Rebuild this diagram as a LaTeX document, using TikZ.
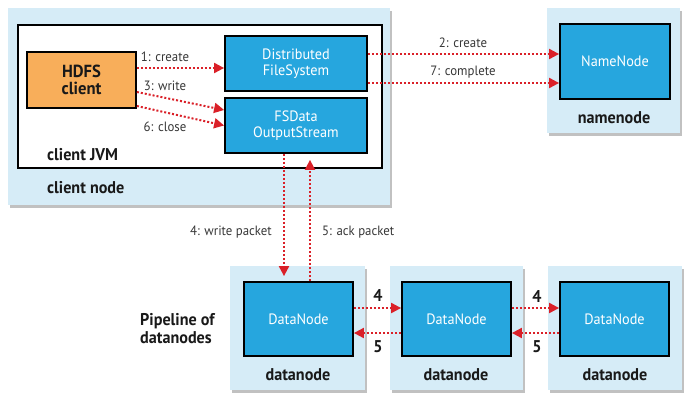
\documentclass[tikz,border=0pt]{standalone}
\usepackage{fontspec}
\setmainfont{PT Sans}[FakeStretch=0.95]
\usetikzlibrary{arrows.meta,shadows}
\definecolor{bgblue}{RGB}{214,236,247}
\definecolor{boxblue}{RGB}{38,166,222}
\definecolor{orng}{RGB}{248,174,90}
\definecolor{arrred}{RGB}{218,32,40}
\definecolor{txt}{RGB}{55,55,55}
\begin{document}
\begin{tikzpicture}[x=1pt,y=-1pt,
  bgbox/.style={fill=bgblue, draw=none, inner sep=0pt,
    drop shadow={shadow xshift=2pt,shadow yshift=-2.5pt,opacity=0.35,fill=black!70}},
  jvmbox/.style={fill=white, draw=black, line width=1.5pt, inner sep=0pt},
  comp/.style={fill=boxblue, draw=black, line width=1.8pt, text=white,
    font=\fontsize{15}{16.5}\selectfont, align=center, inner sep=0pt},
  clientbox/.style={fill=orng, draw=black, line width=1.8pt, text=black!90,
    font=\bfseries\fontsize{17.5}{17.5}\selectfont, align=center, inner sep=0pt},
  lbl/.style={text=txt, font=\fontsize{13.5}{14}\selectfont, inner sep=1pt},
  blbl/.style={text=black!90, font=\bfseries\fontsize{17}{18}\selectfont, inner sep=1pt},
  arr/.style={draw=arrred, line width=2pt, dash pattern=on 2pt off 2pt,
    -{Triangle[length=10pt,width=10pt]}}]
\useasboundingbox (0,0) rectangle (693,405);

% client node
\node[bgbox, minimum width=382pt, minimum height=197pt] (cnode) at (199,106.5) {};
\node[jvmbox, minimum width=364pt, minimum height=143pt] (jvm) at (200,96.5) {};
\node[clientbox, minimum width=109pt, minimum height=56pt] (hdfs) at (81.5,80) {HDFS\\client};
\node[comp, minimum width=142pt, minimum height=55pt] (dfs) at (296,63.5) {Distributed\\FileSystem};
\node[comp, minimum width=142pt, minimum height=55pt] (fsd) at (296,125.5) {FSData\\OutputStream};
\node[blbl, anchor=west] (jvmlbl) at (46,155) {client JVM};
\node[blbl, anchor=west] (cnodelbl) at (46,188) {client node};

% namenode
\node[bgbox, minimum width=133pt, minimum height=125pt] (nnout) at (613.5,70.5) {};
\node[comp, minimum width=110pt, minimum height=75pt] (nn) at (615,61.5) {NameNode};
\node[blbl] (nnlbl) at (614,118) {namenode};

% datanodes
\node[bgbox, minimum width=135pt, minimum height=124pt] (dn1out) at (297.5,328) {};
\node[comp, minimum width=109pt, minimum height=74pt] (dn1) at (298.5,319) {DataNode};
\node[blbl] (dn1lbl) at (298,375) {datanode};
\node[bgbox, minimum width=133pt, minimum height=124pt] (dn2out) at (456.5,328) {};
\node[comp, minimum width=109pt, minimum height=74pt] (dn2) at (456.5,319) {DataNode};
\node[blbl] (dn2lbl) at (456,375) {datanode};
\node[bgbox, minimum width=134pt, minimum height=124pt] (dn3out) at (615,328) {};
\node[comp, minimum width=109pt, minimum height=74pt] (dn3) at (614.5,319) {DataNode};
\node[blbl] (dn3lbl) at (615,375) {datanode};
\node[blbl, anchor=west, align=left] (pipe) at (139,329) {Pipeline of\\datanodes};

% client arrows
\draw[arr] ([yshift=12pt]hdfs.east) -- ([yshift=-4.5pt]dfs.west);
\node[lbl] (l1) at (165,57) {1: create};
\draw[arr] ([yshift=-12pt]hdfs.east) -- ([yshift=15.5pt]fsd.west);
\node[lbl] (l3) at (165,86) {3: write};
\draw[arr] ([yshift=-26pt]hdfs.east) -- ([yshift=0pt]fsd.west);
\node[lbl] (l6) at (165,127) {6: close};

% namenode arrows
\draw[arr] ([yshift=9.5pt]dfs.east) -- ([yshift=7.5pt]nn.west);
\node[lbl] (l2) at (463,43) {2: create};
\draw[arr] ([yshift=-19.5pt]dfs.east) -- ([yshift=-21.5pt]nn.west);
\node[lbl] (l7) at (463,72) {7: complete};

% vertical arrows
\draw[arr, shorten >=5pt] ([xshift=-12pt]fsd.south) -- ([xshift=-14.5pt]dn1.north);
\node[lbl, anchor=east] (l4) at (273,232) {4: write packet};
\draw[arr, shorten >=6pt] ([xshift=11.5pt]dn1.north) -- ([xshift=14pt]fsd.south);
\node[lbl, anchor=west] (l5) at (321,232) {5: ack packet};

% pipeline arrows
\draw[arr] ([yshift=11pt]dn1.east) -- ([yshift=11pt]dn2.west);
\draw[arr] ([yshift=-14pt]dn2.west) -- ([yshift=-14pt]dn1.east);
\node[blbl] (p4a) at (378,296) {4};
\node[blbl] (p5a) at (378,347) {5};
\draw[arr] ([yshift=11pt]dn2.east) -- ([yshift=11pt]dn3.west);
\draw[arr] ([yshift=-14pt]dn3.west) -- ([yshift=-14pt]dn2.east);
\node[blbl] (p4b) at (537,297) {4};
\node[blbl] (p5b) at (537,347) {5};
\end{tikzpicture}
\end{document}
